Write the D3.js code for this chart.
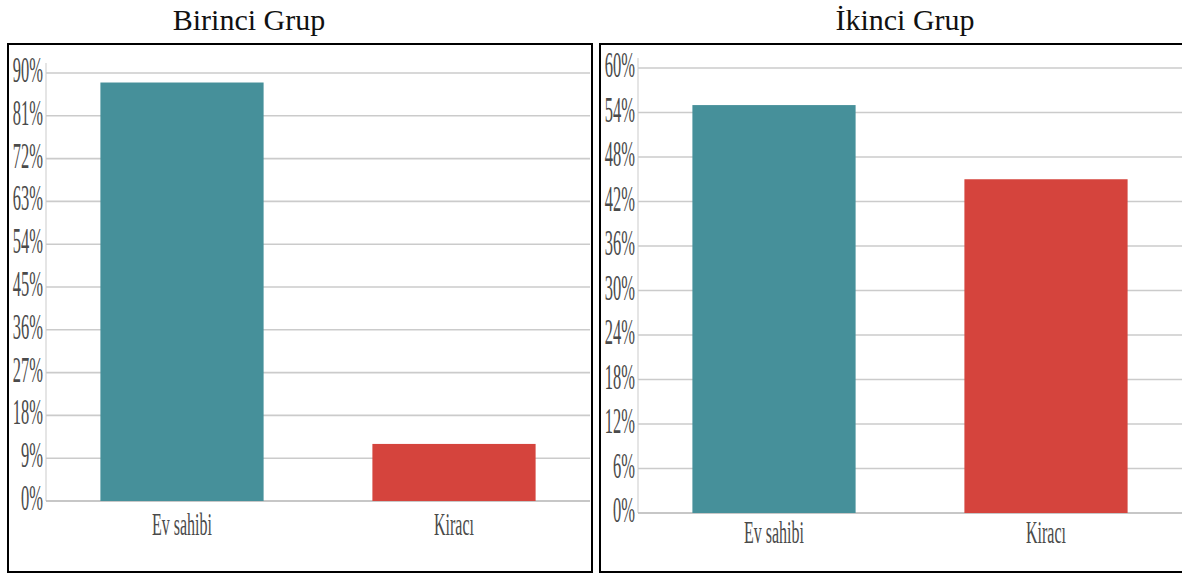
<!DOCTYPE html>
<html>
<head>
<meta charset="utf-8">
<script src="https://cdn.jsdelivr.net/npm/d3@7/dist/d3.min.js"></script>
<style>
  html, body { margin: 0; padding: 0; background: #fff; }
  svg { display: block; }
  .serif { font-family: "Liberation Serif", "Times New Roman", Times, serif; }
</style>
</head>
<body>
<svg id="chart" width="1182" height="575"></svg>
<script>
// Housing status by group (percent of respondents)
const categories = ["Ev sahibi", "Kiracı"];
const groupTitles = ["Birinci Grup", "İkinci Grup"];
const group1Values = [88, 12];
const group2Values = [55, 45];
const group1Ticks = [0, 9, 18, 27, 36, 45, 54, 63, 72, 81, 90];
const group2Ticks = [0, 6, 12, 18, 24, 30, 36, 42, 48, 54, 60];
const barColors = ["#46909a", "#d5443d"];

const svg = d3.select("#chart");

// Narrow serif text: horizontally compressed glyphs
function squeezedText(g, x, y, str, size, sx, anchor, baseline) {
  const t = g.append("text")
    .attr("class", "serif")
    .attr("transform", `translate(${x},${y}) scale(${sx},1)`)
    .attr("font-size", size)
    .attr("fill", "#4a4a4a")
    .attr("text-anchor", anchor)
    .text(str);
  if (baseline) t.attr("dominant-baseline", baseline);
  return t;
}

function drawPanel(p) {
  const g = svg.append("g");

  // Frame
  g.append("rect")
    .attr("x", p.frame[0]).attr("y", p.frame[1])
    .attr("width", p.frame[2]).attr("height", p.frame[3])
    .attr("fill", "none").attr("stroke", "#000").attr("stroke-width", 2);

  // Title
  g.append("text")
    .attr("class", "serif")
    .attr("x", p.titleX).attr("y", 30)
    .attr("font-size", 30)
    .attr("fill", "#111")
    .attr("text-anchor", "middle")
    .text(p.title);

  const x = d3.scaleBand().domain(categories)
    .range([p.left, p.right]).paddingInner(0.4).paddingOuter(0.2);
  const y = d3.scaleLinear().domain([0, d3.max(p.ticks)])
    .range([p.bottom, p.top]);

  // Y axis line
  g.append("line")
    .attr("x1", p.left).attr("x2", p.left)
    .attr("y1", p.top - 10).attr("y2", p.bottom)
    .attr("stroke", "#dcdcdc").attr("stroke-width", 1.5);

  // Gridlines
  g.selectAll("line.grid").data(p.ticks).join("line")
    .attr("class", "grid")
    .attr("x1", p.left).attr("x2", p.gridRight)
    .attr("y1", d => y(d)).attr("y2", d => y(d))
    .attr("stroke", d => d === 0 ? "#b4b4b4" : "#cbcbcb")
    .attr("stroke-width", 1.6);

  // Y tick labels
  p.ticks.forEach(d => {
    squeezedText(g, p.left - 3, y(d) + 1, d + "%", 35, 0.47, "end", "middle");
  });

  // Bars
  g.selectAll("rect.bar").data(p.values).join("rect")
    .attr("class", "bar")
    .attr("x", (d, i) => x(categories[i]))
    .attr("y", d => y(d))
    .attr("width", x.bandwidth())
    .attr("height", d => y(0) - y(d))
    .attr("fill", (d, i) => barColors[i]);

  // Category labels
  categories.forEach(c => {
    squeezedText(g, x(c) + x.bandwidth() / 2, p.bottom + p.labelOffset, c, 32, 0.5, "middle");
  });
}

drawPanel({
  title: groupTitles[0], titleX: 249,
  frame: [8, 44, 584, 528],
  left: 46, right: 590, gridRight: 590,
  top: 73, bottom: 501, labelOffset: 34,
  values: group1Values, ticks: group1Ticks
});

drawPanel({
  title: groupTitles[1], titleX: 905,
  frame: [600, 44, 620, 528],
  left: 638, right: 1182, gridRight: 1182,
  top: 68, bottom: 513, labelOffset: 30,
  values: group2Values, ticks: group2Ticks
});
</script>
</body>
</html>
